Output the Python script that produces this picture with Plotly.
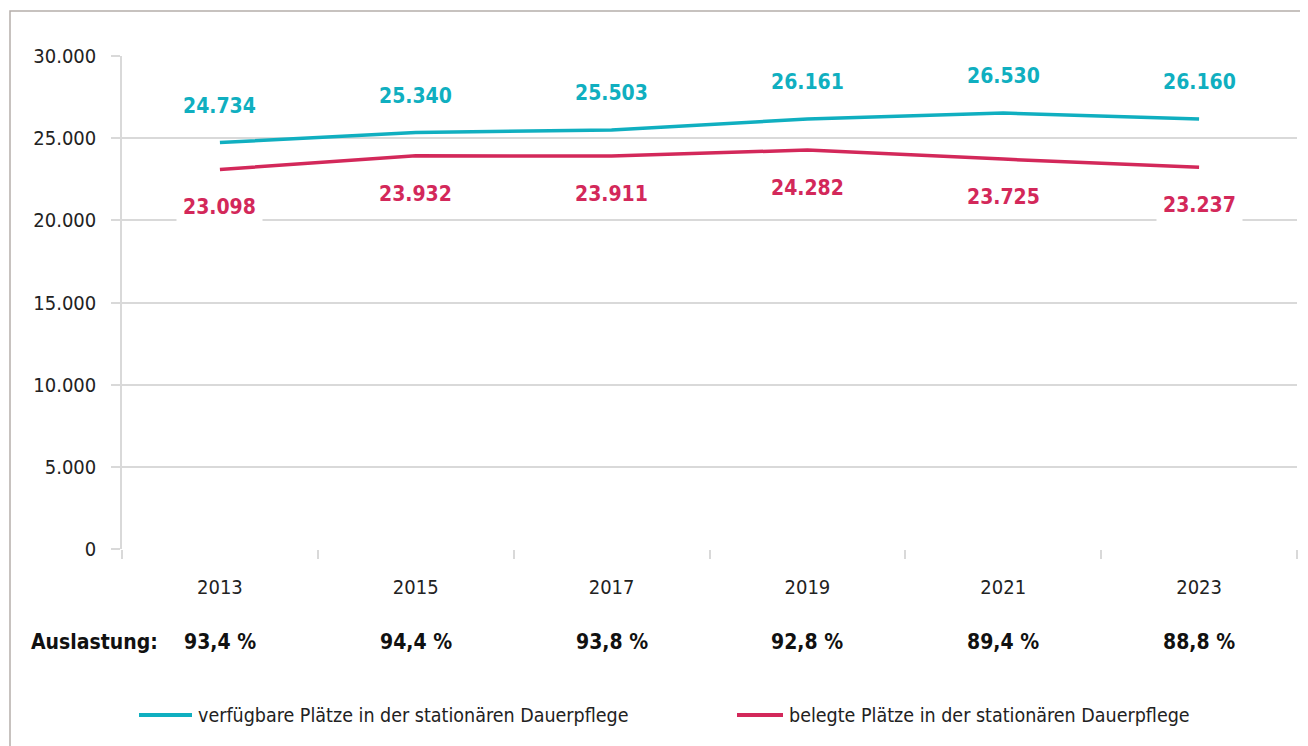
import plotly.graph_objects as go

years = ["2013", "2015", "2017", "2019", "2021", "2023"]
verfuegbar = [24734, 25340, 25503, 26161, 26530, 26160]
belegt = [23098, 23932, 23911, 24282, 23725, 23237]
auslastung = ["93,4 %", "94,4 %", "93,8 %", "92,8 %", "89,4 %", "88,8 %"]
y_ticks = [0, 5000, 10000, 15000, 20000, 25000, 30000]
y_ticktext = ["0", "5.000", "10.000", "15.000", "20.000", "25.000", "30.000"]
series_names = ["verfügbare Plätze in der stationären Dauerpflege",
                "belegte Plätze in der stationären Dauerpflege"]

CYAN = "#10AFC0"
RED = "#D3285A"
FONT = "DejaVu Sans Condensed, DejaVu Sans, sans-serif"
GRID = "#d9d9d9"
TXT = "#222222"

# plot area in screen pixels
PL, PR, PT, PB = 122, 1297, 56, 549
def px(x):
    return (x - PL) / (PR - PL)
def py(y):
    return (PB - y) / (PB - PT)

def fmt(v):
    return f"{v:,}".replace(",", ".")

xs = list(range(len(years)))

fig = go.Figure()
fig.add_trace(go.Scatter(x=xs, y=verfuegbar, mode="lines",
                         line=dict(color=CYAN, width=3.5),
                         name=series_names[0], showlegend=False))
fig.add_trace(go.Scatter(x=xs, y=belegt, mode="lines",
                         line=dict(color=RED, width=3.5),
                         name=series_names[1], showlegend=False))

for i, v in enumerate(verfuegbar):
    fig.add_annotation(x=i, y=v, xref="x", yref="y", text=f"<b>{fmt(v)}</b>",
                       showarrow=False, yshift=37, bgcolor="white", borderpad=7,
                       font=dict(family=FONT, size=21, color=CYAN))
for i, v in enumerate(belegt):
    fig.add_annotation(x=i, y=v, xref="x", yref="y", text=f"<b>{fmt(v)}</b>",
                       showarrow=False, yshift=-38, bgcolor="white", borderpad=6,
                       font=dict(family=FONT, size=21, color=RED))

for i, a in enumerate(auslastung):
    fig.add_annotation(x=i, y=py(642), xref="x", yref="paper", text=f"<b>{a}</b>",
                       showarrow=False, yanchor="middle",
                       font=dict(family=FONT, size=21, color="#111111"))
fig.add_annotation(x=px(160), y=py(642), xref="paper", yref="paper",
                   text="<b>Auslastung:</b>", showarrow=False, xanchor="right",
                   yanchor="middle", font=dict(family=FONT, size=21, color="#111111"))

# manual legend
legend_items = [(139, 192, 196, CYAN, series_names[0]),
                (737, 783, 787, RED, series_names[1])]
for x0, x1, xt, col, name in legend_items:
    fig.add_shape(type="line", xref="paper", yref="paper",
                  x0=px(x0), x1=px(x1), y0=py(715), y1=py(715),
                  line=dict(color=col, width=4))
    fig.add_annotation(x=px(xt), y=py(715), xref="paper", yref="paper",
                       text=name, showarrow=False, xanchor="left", yanchor="middle",
                       font=dict(family=FONT, size=19.5, color=TXT))

# outer frame (left and top edges visible)
fig.add_shape(type="rect", xref="paper", yref="paper",
              x0=px(10), x1=px(1330), y0=py(770), y1=py(11),
              line=dict(color="#b5aeaa", width=1.5), layer="below")

fig.update_layout(
    width=1300, height=738,
    margin=dict(l=PL - 8, r=1300 - (PR - 8), t=PT - 8, b=738 - (PB - 8)),
    paper_bgcolor="white", plot_bgcolor="white",
    font=dict(family=FONT, size=20, color=TXT),
    showlegend=False,
    xaxis=dict(range=[-0.5, 5.5], tickvals=xs, ticktext=years, ticks="",
               showgrid=False, zeroline=False, showline=False,
               tickfont=dict(family=FONT, size=20, color=TXT),
               minor=dict(ticks="outside", tick0=-0.5, dtick=1, ticklen=9,
                          tickcolor=GRID, tickwidth=1.5, showgrid=False),
               ticklabelstandoff=24),
    yaxis=dict(range=[0, 30000], tickvals=y_ticks, ticktext=y_ticktext,
               showgrid=True, gridcolor=GRID, gridwidth=1.5,
               zeroline=False, showline=True, linecolor=GRID, linewidth=1.5,
               ticks="outside", ticklen=9, tickcolor=GRID, tickwidth=1.5,
               tickfont=dict(family=FONT, size=20, color=TXT),
               ticklabelstandoff=11),
)

fig.write_html("out.html")
